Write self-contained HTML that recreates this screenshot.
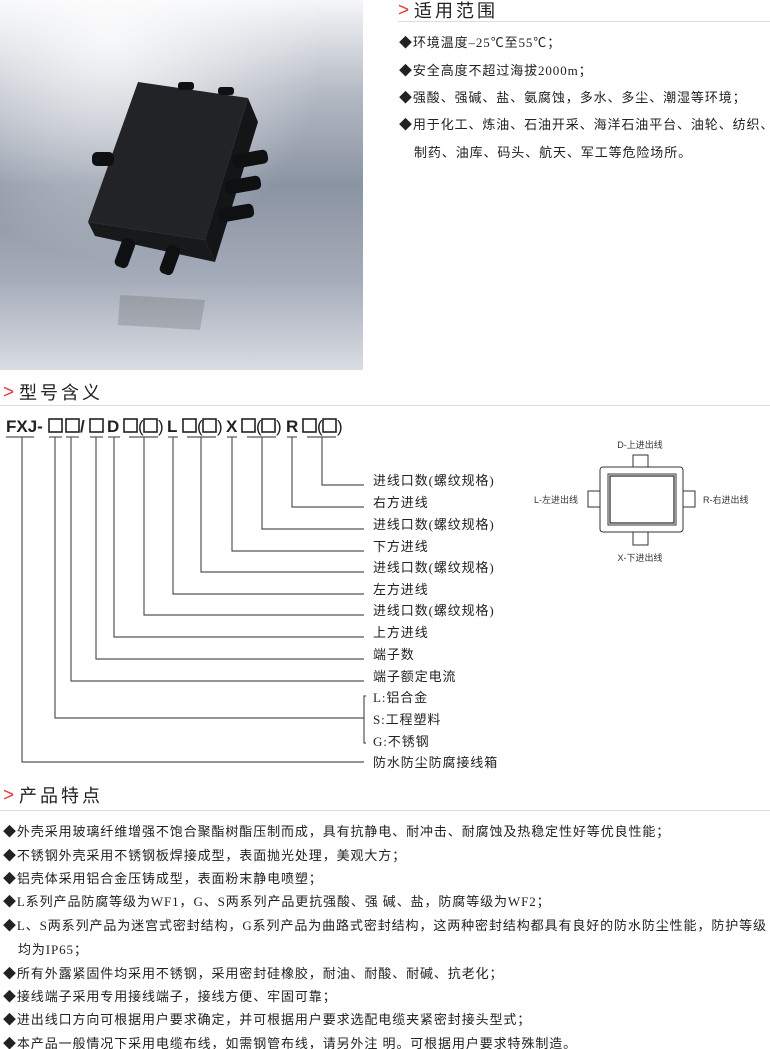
<!DOCTYPE html>
<html><head><meta charset="utf-8"><style>
html,body{margin:0;padding:0;background:#fff;}
svg{display:block;}
.t{font-family:"Liberation Serif","Noto Sans CJK SC",serif;font-size:13px;fill:#222;letter-spacing:0.9px;}
.h{font-family:"Liberation Sans","Noto Sans CJK SC",sans-serif;font-size:18px;fill:#222;letter-spacing:3px;}
.gt{font-family:"Liberation Sans","Noto Sans CJK SC",sans-serif;font-size:19px;fill:#e03a3a;}
.c{font-family:"Liberation Sans",sans-serif;font-size:17px;font-weight:bold;fill:#222;}
.p{font-family:"Liberation Sans",sans-serif;font-size:17px;fill:#222;}
.s{font-family:"Liberation Sans","Noto Sans CJK SC",sans-serif;font-size:9px;fill:#333;}
</style></head><body>
<svg width="770" height="1049" viewBox="0 0 770 1049" xmlns="http://www.w3.org/2000/svg">
<defs>
<linearGradient id="bg" x1="0" y1="0" x2="0" y2="1">
<stop offset="0" stop-color="#f5f6f8"/><stop offset="0.25" stop-color="#b4bac4"/>
<stop offset="0.5" stop-color="#8b94a3"/><stop offset="0.75" stop-color="#a4abb8"/><stop offset="1" stop-color="#d9dce3"/>
</linearGradient>
<radialGradient id="gl" cx="0.3" cy="0.1" r="0.6"><stop offset="0" stop-color="#fff" stop-opacity="0.8"/><stop offset="1" stop-color="#fff" stop-opacity="0"/></radialGradient>
</defs>
<rect x="0" y="0" width="363" height="370" fill="url(#bg)"/>
<rect x="0" y="0" width="363" height="370" fill="url(#gl)"/>
<g opacity="0.18" fill="#333"><polygon points="120,295 205,300 200,330 118,325"/></g>
<polygon points="248,98 258,122 215,262 205,240" fill="#141517"/>
<polygon points="88,222 205,240 215,262 95,236" fill="#18191b"/>
<polygon points="138,82 248,98 205,240 88,222" fill="#222326"/>
<g fill="#0f1012">
<rect x="232" y="152" width="36" height="14" rx="5" transform="rotate(-10 250 159)"/>
<rect x="225" y="178" width="36" height="14" rx="5" transform="rotate(-10 243 185)"/>
<rect x="218" y="206" width="36" height="14" rx="5" transform="rotate(-10 236 213)"/>
<rect x="92" y="152" width="22" height="14" rx="5"/>
<rect x="118" y="238" width="14" height="30" rx="5" transform="rotate(20 125 253)"/>
<rect x="163" y="245" width="14" height="30" rx="5" transform="rotate(20 170 260)"/>
<rect x="178" y="82" width="16" height="8" rx="3"/><rect x="218" y="87" width="16" height="8" rx="3"/>
</g>
<text x="398" y="16" class="gt">&gt;</text>
<text x="414" y="17" class="h">适用范围</text>
<rect x="398" y="21" width="372" height="1" fill="#ddd"/>
<text x="399" y="47" class="t">◆环境温度–25℃至55℃；</text>
<text x="399" y="75" class="t">◆安全高度不超过海拔2000m；</text>
<text x="399" y="102" class="t">◆强酸、强碱、盐、氨腐蚀，多水、多尘、潮湿等环境；</text>
<text x="399" y="129" class="t">◆用于化工、炼油、石油开采、海洋石油平台、油轮、纺织、</text>
<text x="414" y="157" class="t">制药、油库、码头、航天、军工等危险场所。</text>
<text x="3" y="398" class="gt">&gt;</text>
<text x="19" y="399" class="h">型号含义</text>
<rect x="0" y="405" width="770" height="1" fill="#ddd"/>
<g>
<text x="6" y="432" class="c">FXJ-</text>
<g fill="none" stroke="#222" stroke-width="1.6">
<rect x="49" y="419" width="13" height="13"/><rect x="66" y="419" width="13" height="13"/>
<rect x="90" y="419" width="13" height="13"/><rect x="124" y="419" width="13" height="13"/>
<rect x="144" y="419" width="13" height="13"/><rect x="183" y="419" width="13" height="13"/>
<rect x="203" y="419" width="13" height="13"/><rect x="242" y="419" width="13" height="13"/>
<rect x="262" y="419" width="13" height="13"/><rect x="303" y="419" width="13" height="13"/>
<rect x="323" y="419" width="13" height="13"/>
</g>
<text x="80" y="432" class="c">/</text>
<text x="107" y="432" class="c">D</text>
<text x="138" y="432" class="p">(</text><text x="158" y="432" class="p">)</text>
<text x="167" y="432" class="c">L</text>
<text x="197" y="432" class="p">(</text><text x="217" y="432" class="p">)</text>
<text x="226" y="432" class="c">X</text>
<text x="256" y="432" class="p">(</text><text x="276" y="432" class="p">)</text>
<text x="286" y="432" class="c">R</text>
<text x="317" y="432" class="p">(</text><text x="337" y="432" class="p">)</text>
</g>
<g stroke="#555" stroke-width="1.2" fill="none">
<line x1="6" y1="437" x2="34" y2="437"/><line x1="49" y1="437" x2="62" y2="437"/><line x1="66" y1="437" x2="79" y2="437"/>
<line x1="90" y1="437" x2="103" y2="437"/><line x1="108" y1="437" x2="120" y2="437"/><line x1="129" y1="437" x2="158" y2="437"/>
<line x1="168" y1="437" x2="178" y2="437"/><line x1="187" y1="437" x2="216" y2="437"/><line x1="227" y1="437" x2="237" y2="437"/>
<line x1="247" y1="437" x2="276" y2="437"/><line x1="287" y1="437" x2="297" y2="437"/><line x1="307" y1="437" x2="336" y2="437"/>
<polyline points="322,437 322,485 364,485"/><polyline points="292,437 292,507 364,507"/>
<polyline points="262,437 262,529 364,529"/><polyline points="232,437 232,551 364,551"/>
<polyline points="201,437 201,572 364,572"/><polyline points="173,437 173,594 364,594"/>
<polyline points="144,437 144,615 364,615"/><polyline points="114,437 114,637 364,637"/>
<polyline points="96,437 96,659 364,659"/><polyline points="71,437 71,681 364,681"/>
<polyline points="55,437 55,718 364,718"/><polyline points="22,437 22,762 364,762"/>
<polyline points="366,696 364,696 364,743 366,743"/>
</g>
<text x="373" y="485" class="t">进线口数(螺纹规格)</text>
<text x="373" y="507" class="t">右方进线</text>
<text x="373" y="529" class="t">进线口数(螺纹规格)</text>
<text x="373" y="551" class="t">下方进线</text>
<text x="373" y="572" class="t">进线口数(螺纹规格)</text>
<text x="373" y="594" class="t">左方进线</text>
<text x="373" y="615" class="t">进线口数(螺纹规格)</text>
<text x="373" y="637" class="t">上方进线</text>
<text x="373" y="659" class="t">端子数</text>
<text x="373" y="681" class="t">端子额定电流</text>
<text x="373" y="702" class="t">L:铝合金</text>
<text x="373" y="724" class="t">S:工程塑料</text>
<text x="373" y="746" class="t">G:不锈钢</text>
<text x="373" y="767" class="t">防水防尘防腐接线箱</text>
<g fill="#fff" stroke="#333" stroke-width="1">
<rect x="633" y="455" width="15" height="13"/><rect x="633" y="531" width="15" height="14"/>
<rect x="588" y="491" width="13" height="16"/><rect x="682" y="491" width="13" height="16"/>
<rect x="600" y="467" width="83" height="65" rx="3"/>
<rect x="608" y="474" width="68" height="51"/>
<rect x="610" y="476" width="64" height="47" stroke-width="1.3"/>
</g>
<text x="640" y="448" class="s" text-anchor="middle">D-上进出线</text>
<text x="640" y="561" class="s" text-anchor="middle">X-下进出线</text>
<text x="578" y="503" class="s" text-anchor="end">L-左进出线</text>
<text x="703" y="503" class="s">R-右进出线</text>
<text x="3" y="801" class="gt">&gt;</text>
<text x="19" y="802" class="h">产品特点</text>
<rect x="0" y="810" width="770" height="1" fill="#ddd"/>
<text x="3" y="836" class="t">◆外壳采用玻璃纤维增强不饱合聚酯树酯压制而成，具有抗静电、耐冲击、耐腐蚀及热稳定性好等优良性能；</text>
<text x="3" y="860" class="t">◆不锈钢外壳采用不锈钢板焊接成型，表面抛光处理，美观大方；</text>
<text x="3" y="883" class="t">◆铝壳体采用铝合金压铸成型，表面粉末静电喷塑；</text>
<text x="3" y="906" class="t">◆L系列产品防腐等级为WF1，G、S两系列产品更抗强酸、强 碱、盐，防腐等级为WF2；</text>
<text x="3" y="930" class="t">◆L、S两系列产品为迷宫式密封结构，G系列产品为曲路式密封结构，这两种密封结构都具有良好的防水防尘性能，防护等级</text>
<text x="18" y="954" class="t">均为IP65；</text>
<text x="3" y="978" class="t">◆所有外露紧固件均采用不锈钢，采用密封硅橡胶，耐油、耐酸、耐碱、抗老化；</text>
<text x="3" y="1001" class="t">◆接线端子采用专用接线端子，接线方便、牢固可靠；</text>
<text x="3" y="1024" class="t">◆进出线口方向可根据用户要求确定，并可根据用户要求选配电缆夹紧密封接头型式；</text>
<text x="3" y="1048" class="t">◆本产品一般情况下采用电缆布线，如需钢管布线，请另外注 明。可根据用户要求特殊制造。</text>
</svg>
</body></html>
